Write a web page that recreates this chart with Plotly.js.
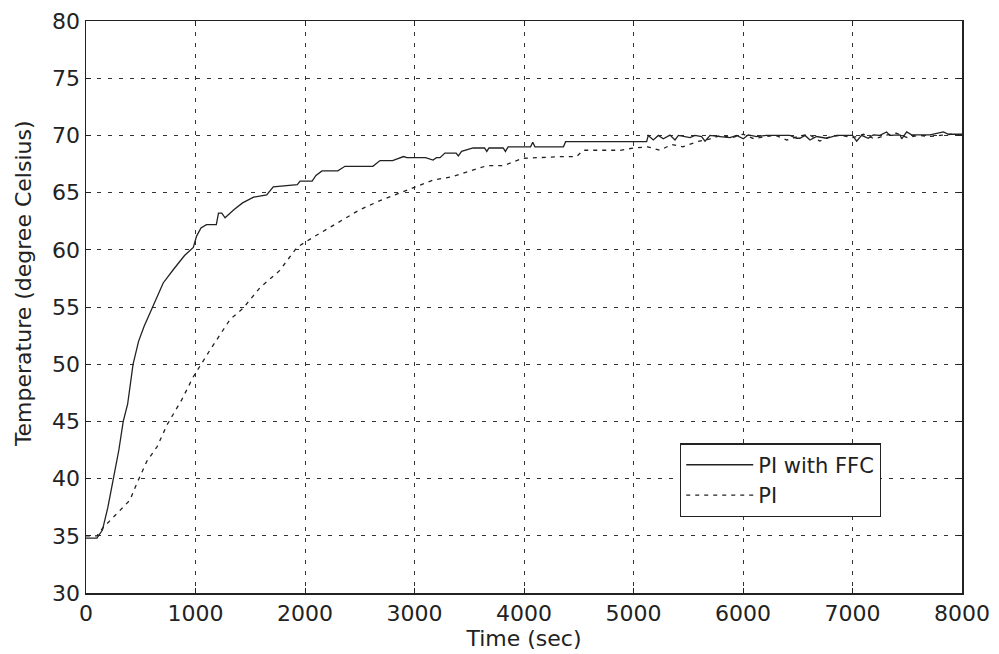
<!DOCTYPE html>
<html>
<head>
<meta charset="utf-8">
<script src="https://cdn.plot.ly/plotly-3.0.1.min.js"></script>
<style>html,body{margin:0;padding:0;background:#fff;}#chart{width:999px;height:654px;}</style>
</head>
<body>
<div id="chart"></div>
<script>
// PI with FFC (solid)
const ffcTime = [0,100,150,200,250,300,340,380,430,480,530,610,705,800,900,980,1010,1050,1100,1190,1210,1240,1270,1350,1430,1530,1650,1710,1930,1955,2065,2100,2155,2300,2365,2620,2685,2800,2870,2900,2930,3000,3100,3170,3200,3233,3278,3380,3400,3430,3535,3640,3660,3680,3810,3830,3855,4060,4080,4100,4360,4380,5120,
  5135,5181,5227,5272,5333,5379,5410,5470,5516,5562,5622,5653,5699,5790,5881,5942,6003,6048,6125,6216,6308,6429,6490,6520,6566,6612,6672,6763,6855,6931,7000,7038,7083,7144,7190,7250,7312,7340,7434,7449,7495,7540,7708,7830,7876,7951,8000];
const ffcTemp = [34.8,34.8,35.5,37.5,40.0,42.5,45.0,46.5,50.0,52.0,53.3,55.0,57.1,58.3,59.5,60.2,61.2,61.9,62.2,62.2,63.2,63.2,62.8,63.5,64.1,64.6,64.8,65.5,65.7,66.0,66.0,66.5,66.9,66.9,67.3,67.3,67.8,67.8,68.05,68.15,68.05,68.05,68.05,67.85,68.05,68.05,68.45,68.45,68.2,68.6,68.9,68.9,68.6,68.9,68.9,68.6,69.0,69.0,69.4,69.0,69.0,69.45,69.45,
  70.0,69.6,70.0,69.7,70.03,69.6,70.0,69.9,69.8,70.0,69.9,69.5,70.0,69.9,69.8,70.0,69.7,70.05,69.9,70.0,70.0,70.0,69.75,69.75,70.0,69.6,69.9,69.75,70.0,70.0,70.0,69.5,70.0,69.75,70.05,70.0,70.3,70.0,70.05,69.7,70.3,70.05,70.05,70.3,70.1,70.1,70.1];

// PI (dashed)
const piTime = [0,100,155,250,400,465,555,650,740,875,980,1130,1315,1435,1590,1770,1925,2075,2290,2500,2685,2870,3020,3170,3350,3480,3660,3810,3900,3990,4240,4330,4480,4540,4880,5000,5130,5240,5350,5450,5580,5700,5800,5900,6000,6100,6200,6300,6400,6500,6600,6700,6800,6900,7000,7100,7200,7300,7400,7500,7600,7700,7800,7900,8000];
const piTemp = [35.0,35.0,35.7,36.6,38.1,39.6,41.5,42.8,44.7,46.9,48.9,51.2,53.9,54.9,56.7,58.2,60.2,61.1,62.3,63.5,64.3,65.0,65.5,66.1,66.4,66.8,67.35,67.35,67.7,68.0,68.1,68.14,68.14,68.7,68.7,68.9,69.0,68.7,69.2,69.0,69.45,69.7,70.0,69.8,70.1,69.7,69.9,70.0,69.6,69.9,70.1,69.5,69.9,70.0,69.8,70.1,69.7,70.0,70.2,69.8,70.0,69.9,70.0,70.1,70.0];

const seriesNames = ['PI with FFC', 'PI'];
const xTicks = [0,1000,2000,3000,4000,5000,6000,7000,8000];
const yTicks = [30,35,40,45,50,55,60,65,70,75,80];
const xTitle = 'Time (sec)';
const yTitle = 'Temperature (degree Celsius)';

const ink = '#222';
const font = {family: 'DejaVu Sans, sans-serif', size: 22, color: ink};
const legendFont = {family: 'DejaVu Sans, sans-serif', size: 21, color: ink};

const traces = [
  {x: ffcTime, y: ffcTemp, name: seriesNames[0], mode: 'lines', line: {color: ink, width: 1.3}},
  {x: piTime, y: piTemp, name: seriesNames[1], mode: 'lines', line: {color: ink, width: 1.3, dash: '4px,5px'}}
];

const axisCommon = {
  showline: true, mirror: 'ticks', linecolor: ink, linewidth: 1.5,
  showgrid: true, gridcolor: '#333', gridwidth: 1, griddash: '4px,7px',
  zeroline: false, ticks: 'inside', ticklen: 5, tickcolor: ink,
  tickfont: font
};

const layout = {
  width: 999, height: 654,
  margin: {l: 86, r: 37, t: 21, b: 61},
  paper_bgcolor: '#fff', plot_bgcolor: '#fff',
  font: font,
  showlegend: true,
  legend: {
    x: 0.678, y: 0.197, xanchor: 'left', yanchor: 'middle',
    bgcolor: '#fff', bordercolor: ink, borderwidth: 1.3,
    font: legendFont, itemwidth: 67, tracegroupgap: 0,
    entrywidth: 160, entrywidthmode: 'pixels'
  },
  xaxis: Object.assign({}, axisCommon, {
    range: [0, 8000], tickvals: xTicks, ticktext: xTicks.map(String),
    title: {text: xTitle, font: font, standoff: 2}
  }),
  yaxis: Object.assign({}, axisCommon, {
    range: [30, 80], tickvals: yTicks, ticktext: yTicks.map(String)
  }),
  annotations: [{
    text: yTitle, textangle: -90, font: font, showarrow: false,
    xref: 'paper', yref: 'paper', x: 0, y: 0.54, xshift: -63,
    xanchor: 'center', yanchor: 'middle'
  }]
};

Plotly.newPlot('chart', traces, layout, {displayModeBar: false, staticPlot: true});
</script>
</body>
</html>
